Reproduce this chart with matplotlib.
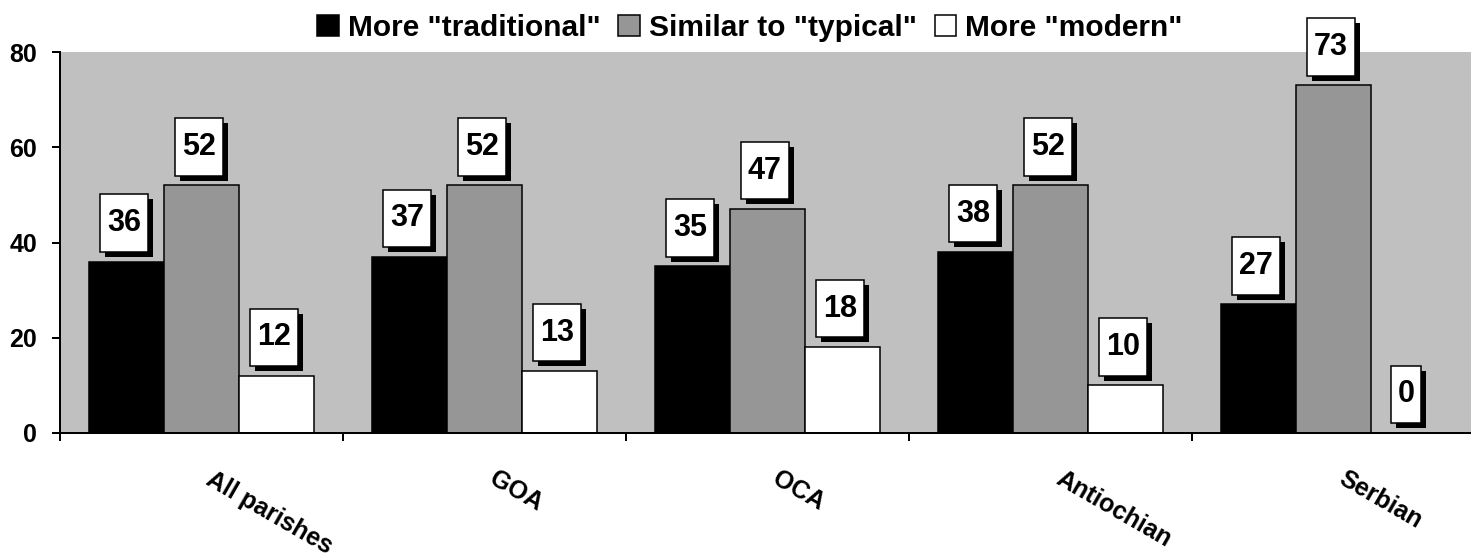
import matplotlib
matplotlib.use("Agg")
import matplotlib.pyplot as plt
import matplotlib.transforms as mtransforms
import matplotlib.patheffects as pe
from matplotlib.path import Path
from matplotlib.patches import Patch
import numpy as np

categories = ["All parishes", "GOA", "OCA", "Antiochian", "Serbian"]
series_names = ['More "traditional"', 'Similar to "typical"', 'More "modern"']
traditional = [36, 37, 35, 38, 27]
typical = [52, 52, 47, 52, 73]
modern = [12, 13, 18, 10, 0]
series_values = [traditional, typical, modern]
series_colors = ["#000000", "#969696", "#FFFFFF"]
y_ticks = [0, 20, 40, 60, 80]

plt.rcParams['font.family'] = ['Liberation Sans', 'DejaVu Sans']
plt.rcParams['font.weight'] = 'bold'

DPI = 100
fig = plt.figure(figsize=(14.71, 5.58), dpi=DPI)
W, H = 1471, 558
ax = fig.add_axes([60 / W, 1 - 433 / H, (1475 - 60) / W, (433 - 52) / H])
ax.set_facecolor("#C0C0C0")

n = len(categories)
x = np.arange(n) + 0.5
w = 0.265

for k, (vals, col) in enumerate(zip(series_values, series_colors)):
    ax.bar(x + (k - 1) * w, vals, width=w, color=col, edgecolor="black",
           linewidth=1.1, zorder=2)


def label_box(x0, y0, width, height, mutation_size):
    padx = 0.22 * mutation_size
    cy = y0 + height / 2
    hh = 0.94 * mutation_size
    verts = [(x0 - padx, cy - hh), (x0 + width + padx, cy - hh),
             (x0 + width + padx, cy + hh), (x0 - padx, cy + hh),
             (x0 - padx, cy - hh)]
    codes = [Path.MOVETO, Path.LINETO, Path.LINETO, Path.LINETO, Path.CLOSEPOLY]
    return Path(verts, codes)


for k, vals in enumerate(series_values):
    for i, v in enumerate(vals):
        t = ax.annotate(str(v), xy=(x[i] + (k - 1) * w, v),
                        xytext=(-2.5, 38.5), textcoords="offset pixels",
                        ha="center", va="center", fontsize=22,
                        fontweight="bold", zorder=5,
                        bbox=dict(boxstyle=label_box, facecolor="white",
                                  edgecolor="black", linewidth=1.1))
        t.get_bbox_patch().set_path_effects([
            pe.SimplePatchShadow(offset=(3.6, -3.6), shadow_rgbFace="black",
                                 alpha=1.0),
            pe.Normal()])

ax.set_xlim(0, n)
ax.set_ylim(0, 80)
ax.set_yticks(y_ticks)
ax.set_yticklabels([str(t) for t in y_ticks], fontsize=18, fontweight="bold")
ax.set_xticks(np.arange(n + 1))
ax.set_xticklabels([])
ax.tick_params(axis="y", direction="out", length=5.8, width=1.44, pad=10.5)
ax.tick_params(axis="x", direction="out", length=5.8, width=1.44)

for s in ["top", "right"]:
    ax.spines[s].set_visible(False)
for s in ["left", "bottom"]:
    ax.spines[s].set_linewidth(1.44)
    ax.spines[s].set_zorder(3)

blend = mtransforms.blended_transform_factory(ax.transData, ax.transAxes)
off = mtransforms.ScaledTranslation(13 / DPI, -34 / DPI, fig.dpi_scale_trans)
for i, c in enumerate(categories):
    ax.text(x[i], 0, c, transform=blend + off, rotation=-30,
            rotation_mode="anchor", ha="left", va="top", fontsize=18,
            fontweight="bold", clip_on=False)

handles = [Patch(facecolor=c, edgecolor="black", linewidth=1.1)
           for c in series_colors]
fig.legend(handles, series_names, loc="center",
           bbox_to_anchor=(750 / W, 1 - 28 / H), ncol=3, frameon=False,
           prop=dict(size=21.5, weight="bold"), handlelength=0.72,
           handleheight=0.72, handletextpad=0.3, columnspacing=0.6,
           borderpad=0, borderaxespad=0)

fig.savefig("out.png", dpi=DPI)
